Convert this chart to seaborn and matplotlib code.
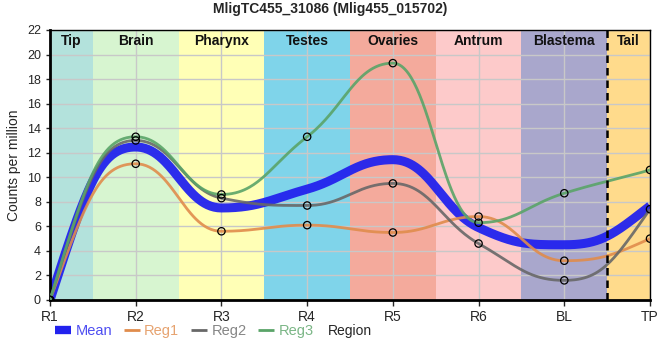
import numpy as np
import pandas as pd
import matplotlib
matplotlib.use("Agg")
import matplotlib.pyplot as plt
import seaborn as sns
from matplotlib.lines import Line2D

regions = ["R1", "R2", "R3", "R4", "R5", "R6", "BL", "TP"]
reg1 = [0, 11.1, 5.6, 6.1, 5.5, 6.8, 3.2, 5.0]
reg2 = [0, 13.0, 8.3, 7.7, 9.5, 4.6, 1.6, 7.4]
reg3 = [0, 13.3, 8.6, 13.3, 19.3, 6.3, 8.7, 10.6]
mean = list(np.mean([reg1, reg2, reg3], axis=0))

band_names = ["Tip", "Brain", "Pharynx", "Testes", "Ovaries", "Antrum", "Blastema", "Tail"]
band_edges = [0, 0.5, 1.5, 2.5, 3.5, 4.5, 5.5, 6.5, 7]
band_colors = ["#b3e2dc", "#d7f5d0", "#ffffb6", "#7fd4ea", "#f4aa9c", "#fdcaca", "#a9a7cc", "#ffdb8c"]

series_colors = {"Mean": "#2222ee", "Reg1": "#e08c4c", "Reg2": "#686868", "Reg3": "#5aa468"}


def smooth_curve(y, arm=0.43, per_seg=60):
    """Bezier smoothing through the points (flat at local extrema)."""
    y = np.asarray(y, float)
    n = len(y)
    d = np.diff(y)
    m = np.zeros(n)
    for k in range(1, n - 1):
        if d[k - 1] * d[k] > 0:
            mk = (d[k - 1] + d[k]) / 2
            lim = min(abs(d[k - 1]), abs(d[k])) / arm
            m[k] = np.sign(mk) * min(abs(mk), lim)
    m[0] = (3 * d[0] - m[1]) / 2 * 1.15
    m[-1] = (3 * d[-1] - m[-2]) / 2 * 1.15
    xs, ys = [], []
    t = np.linspace(0, 1, per_seg)
    for k in range(n - 1):
        p0 = np.array([k, y[k]])
        p1 = np.array([k + arm, y[k] + arm * m[k]])
        p2 = np.array([k + 1 - arm, y[k + 1] - arm * m[k + 1]])
        p3 = np.array([k + 1, y[k + 1]])
        b = (np.outer((1 - t) ** 3, p0) + np.outer(3 * (1 - t) ** 2 * t, p1)
             + np.outer(3 * (1 - t) * t ** 2, p2) + np.outer(t ** 3, p3))
        xs.extend(b[:, 0]); ys.extend(b[:, 1])
    return np.array(xs), np.array(ys)


xi = np.arange(len(regions))
rows = []
for name, vals in [("Mean", mean), ("Reg1", reg1), ("Reg2", reg2), ("Reg3", reg3)]:
    cx, cy = smooth_curve(vals)
    for xv, yv in zip(cx, cy):
        rows.append({"x": xv, "y": yv, "series": name})
dense = pd.DataFrame(rows)
pts = pd.DataFrame([{"x": i, "y": v, "series": n} for n, vals in
                    [("Reg1", reg1), ("Reg2", reg2), ("Reg3", reg3)] for i, v in enumerate(vals)])

sns.set_theme(style="white")
plt.rcParams["font.family"] = ["Liberation Sans", "DejaVu Sans"]
fig = plt.figure(figsize=(6.6, 3.6), dpi=100)
ax = fig.add_axes([50/660, 60/360, 600/660, 270/360])

for i, (nm, col) in enumerate(zip(band_names, band_colors)):
    ax.axvspan(band_edges[i], band_edges[i+1], color=col, zorder=0, lw=0)
    ax.text((band_edges[i] + band_edges[i+1]) / 2, 21.65, nm, ha="center", va="top",
            fontsize=10, fontweight="bold", color="#111111", zorder=5)

ax.set_yticks(np.arange(0, 23, 2))
ax.set_xticks(xi)
ax.grid(True, color="#c8c8c8", lw=1, zorder=1)
for gl in ax.get_xgridlines() + ax.get_ygridlines():
    gl.set_zorder(1)

widths = {"Mean": 6.5, "Reg1": 2, "Reg2": 2, "Reg3": 2}
for nm in ["Reg1", "Reg2", "Reg3", "Mean"]:
    sns.lineplot(data=dense[dense.series == nm], x="x", y="y", color=series_colors[nm],
                 lw=widths[nm], ax=ax, zorder=3 if nm != "Mean" else 2.5, legend=False,
                 alpha=0.9 if nm != "Mean" else 0.95, solid_capstyle="butt", sort=False)
sns.scatterplot(data=pts, x="x", y="y", ax=ax, s=28, facecolor="none", edgecolor="black",
                linewidth=0.9, zorder=6, legend=False)

ax.axvline(6.5, color="black", ls=(0, (3, 2)), lw=1.8, zorder=4)
ax.set_xlim(0, 7)
ax.set_ylim(0, 22)
ax.set_xticklabels(regions, fontsize=10)
ax.tick_params(axis="y", labelsize=9, length=3, left=True, width=1)
ax.tick_params(axis="x", length=4, width=1, bottom=True, pad=3)
for s in ax.spines.values():
    s.set_color("black"); s.set_linewidth(1)
ax.spines["left"].set_linewidth(2)
ax.spines["bottom"].set_linewidth(2)
ax.set_xlabel("")
ax.set_ylabel("Counts per million", fontsize=10)
fig.suptitle("MligTC455_31086 (Mlig455_015702)", fontsize=10, fontweight="bold", y=0.995)

names = ["Mean", "Reg1", "Reg2", "Reg3"]
handles = [Line2D([], [], color=series_colors[n], lw=(6 if n == "Mean" else 2),
                  solid_capstyle="butt") for n in names]
leg = fig.legend(handles, names, loc="center left",
                 bbox_to_anchor=(55/660, 29/360), ncol=4, frameon=False, fontsize=10.5,
                 handlelength=1.1, handletextpad=0.3, columnspacing=0.8,
                 borderaxespad=0, borderpad=0)
for t, n in zip(leg.get_texts(), names):
    t.set_color(series_colors[n]); t.set_alpha(0.8)
fig.text(350/660, 29/360, "Region", ha="center", va="center", fontsize=10)

fig.savefig("out.png", dpi=100)
